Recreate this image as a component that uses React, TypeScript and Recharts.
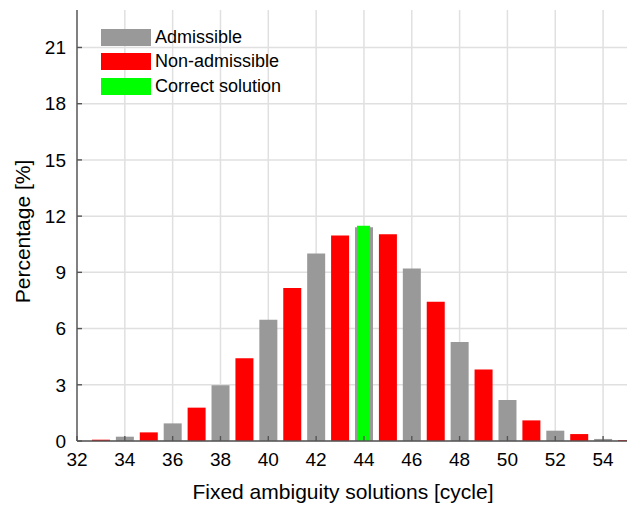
import React from "react";
import { ComposedChart, Bar, Cell, XAxis, YAxis, CartesianGrid, Legend, Label } from "recharts";

const categories = [33, 34, 35, 36, 37, 38, 39, 40, 41, 42, 43, 44, 45, 46, 47, 48, 49, 50, 51, 52, 53, 54, 55];
const percentages = [0.07, 0.23, 0.46, 0.94, 1.78, 2.97, 4.42, 6.47, 8.16, 10.0, 10.96, 11.41, 11.03, 9.2, 7.43, 5.28, 3.82, 2.19, 1.1, 0.55, 0.37, 0.11, 0.05];
const kinds = ["non", "adm", "non", "adm", "non", "adm", "non", "adm", "non", "adm", "non", "adm", "non", "adm", "non", "adm", "non", "adm", "non", "adm", "non", "adm", "non"];
const correctX = 44;
const correctValue = 11.48;
const xTicks = [32, 34, 36, 38, 40, 42, 44, 46, 48, 50, 52, 54];
const yTicks = [0, 3, 6, 9, 12, 15, 18, 21];

const COLORS: Record<string, string> = { adm: "#999999", non: "#ff0000", ok: "#00ff00" };
const legendItems = [
  { label: "Admissible", color: COLORS.adm },
  { label: "Non-admissible", color: COLORS.non },
  { label: "Correct solution", color: COLORS.ok },
];

const data = categories.map((x, i) => ({
  x,
  value: percentages[i],
  kind: kinds[i],
  correct: x === correctX ? correctValue : null,
}));

const FONT = "'Liberation Sans', Arial, sans-serif";
const AXIS = "#555555";

const LegendContent = () => (
  <div style={{ fontFamily: FONT, fontSize: 18, color: "#000" }}>
    {legendItems.map((it) => (
      <div key={it.label} style={{ display: "flex", alignItems: "center", height: 24.5 }}>
        <div style={{ width: 50, height: 17, background: it.color, marginRight: 4 }} />
        <span>{it.label}</span>
      </div>
    ))}
  </div>
);

export default function App() {
  return (
    <div style={{ position: "absolute", left: 0, top: 0, width: 630, height: 507, background: "#fff" }}>
      <ComposedChart
        width={630}
        height={507}
        data={data}
        margin={{ top: 10, right: 3, left: 0, bottom: 0 }}
        style={{ fontFamily: FONT }}
      >
        <CartesianGrid stroke="#e0e0e0" strokeWidth={1.5} verticalValues={xTicks} horizontalValues={yTicks} />
        <XAxis
          dataKey="x"
          type="number"
          domain={[32, 55]}
          ticks={xTicks}
          allowDataOverflow
          height={66}
          tickSize={-5}
          tickMargin={17}
          stroke={AXIS}
          strokeWidth={1.4}
          tick={{ fill: "#000", fontSize: 19, fontFamily: FONT }}
        >
          <Label
            value="Fixed ambiguity solutions [cycle]"
            position="insideBottom"
            offset={8}
            dx={-9}
            style={{ fill: "#000", fontSize: 21, fontFamily: FONT }}
          />
        </XAxis>
        <XAxis
          xAxisId="top"
          dataKey="x"
          type="number"
          orientation="top"
          domain={[32, 55]}
          ticks={xTicks}
          allowDataOverflow
          height={0}
          tickSize={-5}
          tick={false}
          stroke={AXIS}
          strokeWidth={1.4}
        />
        <YAxis
          type="number"
          domain={[0, 23]}
          ticks={yTicks}
          allowDataOverflow
          width={77}
          tickSize={-5}
          tickMargin={16}
          stroke={AXIS}
          strokeWidth={1.4}
          tick={{ fill: "#000", fontSize: 19, fontFamily: FONT }}
        >
          <Label
            value="Percentage [%]"
            angle={-90}
            position="insideLeft"
            offset={23}
            dy={6}
            style={{ fill: "#000", fontSize: 21, fontFamily: FONT, textAnchor: "middle" }}
          />
        </YAxis>
        <YAxis
          yAxisId="right"
          orientation="right"
          type="number"
          domain={[0, 23]}
          ticks={yTicks}
          width={0}
          tickSize={-5}
          tick={false}
          stroke={AXIS}
          strokeWidth={1.4}
        />
        <Bar dataKey="value" barSize={18} isAnimationActive={false}>
          {data.map((d) => (
            <Cell key={d.x} fill={COLORS[d.kind]} />
          ))}
        </Bar>
        <Bar dataKey="correct" xAxisId="top" barSize={13} fill={COLORS.ok} isAnimationActive={false} />
        <Legend
          layout="vertical"
          verticalAlign="middle"
          align="center"
          content={<LegendContent />}
          wrapperStyle={{ left: 101, top: 25, width: "auto", height: "auto" }}
        />
      </ComposedChart>
    </div>
  );
}
